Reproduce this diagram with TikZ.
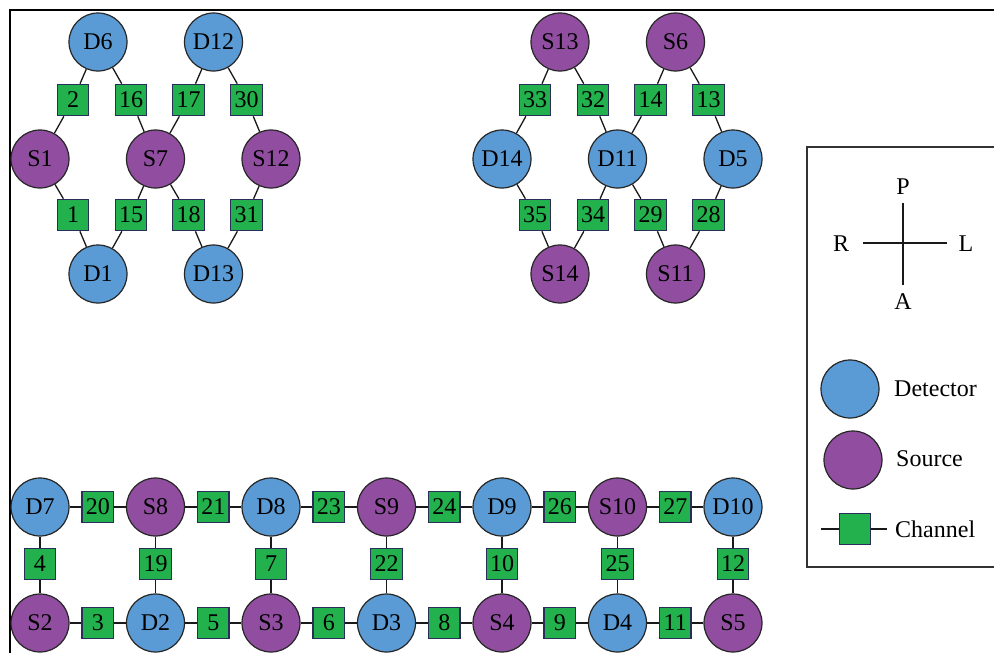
\documentclass[tikz,border=0pt]{standalone}
\usepackage{fontspec}
\setmainfont{Liberation Serif}
\definecolor{detblue}{RGB}{91,155,213}
\definecolor{srcpurple}{RGB}{145,78,160}
\definecolor{chgreen}{RGB}{34,177,76}
\definecolor{chborder}{RGB}{40,45,90}
\begin{document}
\begin{tikzpicture}[x=1pt,y=-1pt,
  det/.style={circle,draw=black!85,line width=1.2pt,fill=detblue,minimum size=58pt,inner sep=0pt,font=\fontsize{24}{26}\selectfont},
  src/.style={circle,draw=black!85,line width=1.2pt,fill=srcpurple,minimum size=58pt,inner sep=0pt,font=\fontsize{24}{26}\selectfont},
  chan/.style={rectangle,draw=chborder,line width=1.1pt,fill=chgreen,minimum size=31.5pt,inner sep=0pt,font=\fontsize{24}{26}\selectfont},
  link/.style={draw=black!90,line width=1.3pt},
  txt/.style={inner sep=0pt,font=\fontsize{24}{26}\selectfont}]
\useasboundingbox (0,0) rectangle (994,653);
\fill[white] (0,0) rectangle (994,653);
% frame
\draw[line width=2.6pt] (10,653) -- (10,10) -- (994,10);
% legend box
\draw[line width=1.1pt,black!80] (994,147) -- (807,147) -- (807,567) -- (994,567);

% ---------- top-left cluster ----------
\node[det] (D6) at (98,42) {D6};
\node[det] (D12) at (213.5,42) {D12};
\node[src] (S1) at (40,159) {S1};
\node[src] (S7) at (155.5,159) {S7};
\node[src] (S12) at (271,159) {S12};
\node[det] (D1) at (98,274) {D1};
\node[det] (D13) at (213.5,274) {D13};
\node[chan] (c2) at (73,100) {2};
\node[chan] (c16) at (131,100) {16};
\node[chan] (c17) at (188.5,100) {17};
\node[chan] (c30) at (246.5,100) {30};
\node[chan] (c1) at (73,215) {1};
\node[chan] (c15) at (131,215) {15};
\node[chan] (c18) at (188.5,215) {18};
\node[chan] (c31) at (246.5,215) {31};

% ---------- top-right cluster ----------
\node[src] (S13) at (560,42) {S13};
\node[src] (S6) at (675.5,42) {S6};
\node[det] (D14) at (502,159) {D14};
\node[det] (D11) at (617.5,159) {D11};
\node[det] (D5) at (733,159) {D5};
\node[src] (S14) at (560,274) {S14};
\node[src] (S11) at (675.5,274) {S11};
\node[chan] (c33) at (535,100) {33};
\node[chan] (c32) at (593,100) {32};
\node[chan] (c14) at (650.5,100) {14};
\node[chan] (c13) at (708.5,100) {13};
\node[chan] (c35) at (535,215) {35};
\node[chan] (c34) at (593,215) {34};
\node[chan] (c29) at (650.5,215) {29};
\node[chan] (c28) at (708.5,215) {28};

% ---------- bottom grid ----------
\node[det] (D7) at (40,507) {D7};
\node[src] (S8) at (155.5,507) {S8};
\node[det] (D8) at (271,507) {D8};
\node[src] (S9) at (386.5,507) {S9};
\node[det] (D9) at (502,507) {D9};
\node[src] (S10) at (617.5,507) {S10};
\node[det] (D10) at (733,507) {D10};
\node[src] (S2) at (40,623) {S2};
\node[det] (D2) at (155.5,623) {D2};
\node[src] (S3) at (271,623) {S3};
\node[det] (D3) at (386.5,623) {D3};
\node[src] (S4) at (502,623) {S4};
\node[det] (D4) at (617.5,623) {D4};
\node[src] (S5) at (733,623) {S5};
\node[chan] (c20) at (97.75,507) {20};
\node[chan] (c21) at (213.25,507) {21};
\node[chan] (c23) at (328.75,507) {23};
\node[chan] (c24) at (444.25,507) {24};
\node[chan] (c26) at (559.75,507) {26};
\node[chan] (c27) at (675.25,507) {27};
\node[chan] (c3) at (97.75,623) {3};
\node[chan] (c5) at (213.25,623) {5};
\node[chan] (c6) at (328.75,623) {6};
\node[chan] (c8) at (444.25,623) {8};
\node[chan] (c9) at (559.75,623) {9};
\node[chan] (c11) at (675.25,623) {11};
\node[chan] (c4) at (40,564) {4};
\node[chan] (c19) at (155.5,564) {19};
\node[chan] (c7) at (271,564) {7};
\node[chan] (c22) at (386.5,564) {22};
\node[chan] (c10) at (502,564) {10};
\node[chan] (c25) at (617.5,564) {25};
\node[chan] (c12) at (733,564) {12};

% ---------- connectors ----------
\foreach \a/\c/\b in {D6/c2/S1,D6/c16/S7,D12/c17/S7,D12/c30/S12,S1/c1/D1,S7/c15/D1,S7/c18/D13,S12/c31/D13,
  S13/c33/D14,S13/c32/D11,S6/c14/D11,S6/c13/D5,D14/c35/S14,D11/c34/S14,D11/c29/S11,D5/c28/S11,
  D7/c20/S8,S8/c21/D8,D8/c23/S9,S9/c24/D9,D9/c26/S10,S10/c27/D10,
  S2/c3/D2,D2/c5/S3,S3/c6/D3,D3/c8/S4,S4/c9/D4,D4/c11/S5,
  D7/c4/S2,S8/c19/D2,D8/c7/S3,S9/c22/D3,D9/c10/S4,S10/c25/D4,D10/c12/S5}
  {\draw[link] (\a) -- (\c); \draw[link] (\c) -- (\b);}

% ---------- legend ----------
\node[txt] (P) at (903,187) {P};
\node[txt] (A) at (903,302) {A};
\node[txt] (R) at (841,244) {R};
\node[txt] (L) at (966,244) {L};
\coordinate (vt) at (903,203);
\coordinate (vb) at (903,285);
\coordinate (hl) at (863,243);
\coordinate (hr) at (947,243);
\draw[link,line width=1.1pt] (vt) -- (vb);
\draw[link,line width=1.1pt] (hl) -- (hr);

\node[det] (ldet) at (850,389) {};
\node[txt,anchor=west] (tdet) at (894,389) {Detector};
\node[src] (lsrc) at (853,460) {};
\node[txt,anchor=west] (tsrc) at (896,459) {Source};
\node[chan] (lch) at (855,529) {};
\coordinate (lchl) at (821,529);
\coordinate (lchr) at (887,529);
\draw[link] (lchl) -- (lch);
\draw[link] (lch) -- (lchr);
\node[txt,anchor=west] (tch) at (895,529) {Channel};
\end{tikzpicture}
\end{document}
